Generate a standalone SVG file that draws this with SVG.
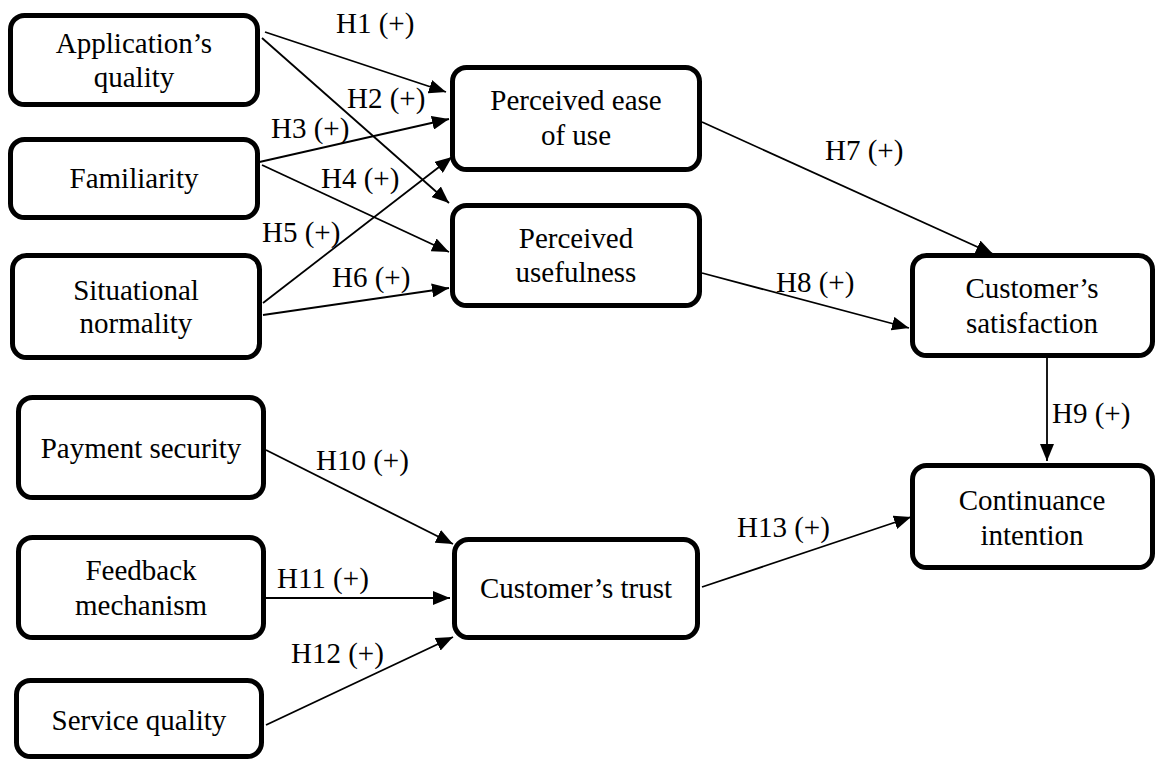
<svg xmlns="http://www.w3.org/2000/svg" width="1157" height="760" viewBox="0 0 1157 760">
<style>
.box{fill:#fff;stroke:#000;stroke-width:5}
.t{font-family:'Liberation Serif','Times New Roman',serif;font-size:29px;fill:#000}
.c{text-anchor:middle}
.ln{stroke:#000;stroke-width:1.8;fill:none;marker-end:url(#ah)}
</style>
<defs>
<marker id="ah" markerUnits="userSpaceOnUse" markerWidth="17" markerHeight="14" refX="17" refY="7" orient="auto" viewBox="0 0 17 14">
<path d="M0,0 L17,7 L0,14 z" fill="#000"/>
</marker>
</defs>
<rect width="1157" height="760" fill="#fff"/>
<g id="connectors">
<line class="ln" x1="265" y1="32" x2="446" y2="92"/>
<line class="ln" x1="262" y1="38" x2="449" y2="203"/>
<line class="ln" x1="255" y1="163" x2="449" y2="119"/>
<line class="ln" x1="262" y1="165" x2="449" y2="252"/>
<line class="ln" x1="263" y1="303" x2="452" y2="157"/>
<line class="ln" x1="263" y1="315" x2="449" y2="288"/>
<line class="ln" x1="702" y1="122" x2="993" y2="254"/>
<line class="ln" x1="702" y1="273" x2="909" y2="328"/>
<line class="ln" x1="1047" y1="358" x2="1047" y2="461"/>
<line class="ln" x1="266" y1="450" x2="453" y2="544"/>
<line class="ln" x1="266" y1="598" x2="450" y2="598"/>
<line class="ln" x1="266" y1="725" x2="453" y2="637"/>
<line class="ln" x1="702" y1="587" x2="911" y2="517"/>
<text class="t" x="336" y="33">H1 (+)</text>
<text class="t" x="347" y="108">H2 (+)</text>
<text class="t" x="271" y="138">H3 (+)</text>
<text class="t" x="321" y="188">H4 (+)</text>
<text class="t" x="262" y="242">H5 (+)</text>
<text class="t" x="332" y="287">H6 (+)</text>
<text class="t" x="825" y="160">H7 (+)</text>
<text class="t" x="776" y="292">H8 (+)</text>
<text class="t" x="1052" y="423">H9 (+)</text>
<text class="t" x="316" y="470">H10 (+)</text>
<text class="t" x="277" y="588">H11 (+)</text>
<text class="t" x="291" y="663">H12 (+)</text>
<text class="t" x="737" y="537">H13 (+)</text>
</g>
<g id="app-quality">
<rect class="box" x="10.5" y="15.5" width="247" height="89" rx="14"/>
<text class="t c" x="134" y="53">Application’s</text>
<text class="t c" x="134" y="87">quality</text>
</g>
<g id="familiarity">
<rect class="box" x="10.5" y="139.5" width="247" height="78" rx="14"/>
<text class="t c" x="134" y="188">Familiarity</text>
</g>
<g id="situational-normality">
<rect class="box" x="12.5" y="255.5" width="247" height="102" rx="14"/>
<text class="t c" x="136" y="300">Situational</text>
<text class="t c" x="136" y="333">normality</text>
</g>
<g id="peou">
<rect class="box" x="452.5" y="67.5" width="247" height="102" rx="14"/>
<text class="t c" x="576" y="110">Perceived ease</text>
<text class="t c" x="576" y="145">of use</text>
</g>
<g id="pu">
<rect class="box" x="452.5" y="205.5" width="247" height="100" rx="14"/>
<text class="t c" x="576" y="248">Perceived</text>
<text class="t c" x="576" y="282">usefulness</text>
</g>
<g id="satisfaction">
<rect class="box" x="912.5" y="255.5" width="240" height="100" rx="14"/>
<text class="t c" x="1032" y="298">Customer’s</text>
<text class="t c" x="1032" y="333">satisfaction</text>
</g>
<g id="continuance">
<rect class="box" x="912.5" y="465.5" width="240" height="102" rx="14"/>
<text class="t c" x="1032" y="510">Continuance</text>
<text class="t c" x="1032" y="545">intention</text>
</g>
<g id="trust">
<rect class="box" x="454.5" y="539.5" width="243" height="98" rx="14"/>
<text class="t c" x="576" y="598">Customer’s trust</text>
</g>
<g id="payment-security">
<rect class="box" x="18.5" y="397.5" width="245" height="100" rx="14"/>
<text class="t c" x="141" y="458">Payment security</text>
</g>
<g id="feedback">
<rect class="box" x="18.5" y="537.5" width="245" height="100" rx="14"/>
<text class="t c" x="141" y="580">Feedback</text>
<text class="t c" x="141" y="615">mechanism</text>
</g>
<g id="service-quality">
<rect class="box" x="16.5" y="680.5" width="245" height="76" rx="14"/>
<text class="t c" x="139" y="730">Service quality</text>
</g>
</svg>
